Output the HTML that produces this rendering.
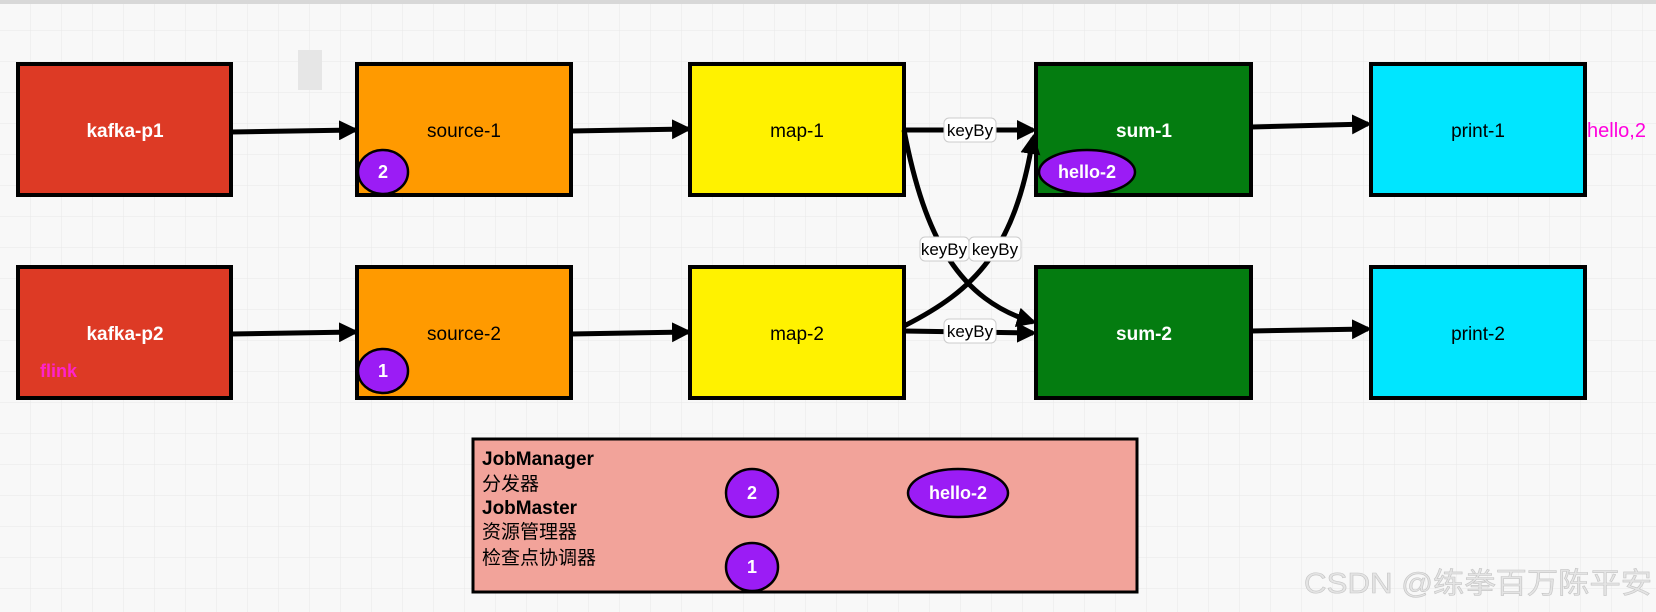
<!DOCTYPE html>
<html><head><meta charset="utf-8"><style>
html,body{margin:0;padding:0;width:1656px;height:612px;overflow:hidden;background:#f8f8f8}
svg{display:block}
text{font-family:"Liberation Sans","Noto Sans CJK SC",sans-serif}
</style></head><body>
<svg width="1656" height="612" viewBox="0 0 1656 612" xmlns="http://www.w3.org/2000/svg">
<defs>
<pattern id="g" width="31" height="31" patternUnits="userSpaceOnUse">
<path d="M31 0V31M0 31H31" stroke="#e8e8e8" stroke-width="1" fill="none"/>
</pattern>
<marker id="a" viewBox="0 0 10 10" refX="8" refY="5" markerWidth="4" markerHeight="4" orient="auto">
<path d="M0 0L10 5L0 10z" fill="#000"/>
</marker>
</defs>
<rect width="1656" height="612" fill="#f8f8f8"/>
<rect width="1656" height="612" fill="url(#g)"/>
<rect x="0" y="0" width="1656" height="4" fill="#d8d8d8"/>
<rect x="298" y="50" width="24" height="40" fill="#e6e6e6"/>

<g stroke="#000" stroke-width="4">
<rect x="18" y="64" width="213" height="131" fill="#dd3a25"/>
<rect x="357" y="64" width="214" height="131" fill="#ff9a00"/>
<rect x="690" y="64" width="214" height="131" fill="#fff200"/>
<rect x="1036" y="64" width="215" height="131" fill="#047c10"/>
<rect x="1371" y="64" width="214" height="131" fill="#00e6ff"/>
<rect x="18" y="267" width="213" height="131" fill="#dd3a25"/>
<rect x="357" y="267" width="214" height="131" fill="#ff9a00"/>
<rect x="690" y="267" width="214" height="131" fill="#fff200"/>
<rect x="1036" y="267" width="215" height="131" fill="#047c10"/>
<rect x="1371" y="267" width="214" height="131" fill="#00e6ff"/>
</g>

<g stroke="#000" stroke-width="5" fill="none" marker-end="url(#a)">
<path d="M231 132L355 130"/>
<path d="M571 131L688 129"/>
<path d="M904 130L1033 130"/>
<path d="M1251 127L1368 124"/>
<path d="M231 334L355 332"/>
<path d="M571 334L688 332"/>
<path d="M904 331L1033 333"/>
<path d="M1251 331L1368 329"/>
<path d="M904 130C925 240 960 300 1033 322"/>
<path d="M904 326C975 290 1015 250 1033 138"/>
</g>

<g font-size="17" fill="#000">
<rect x="944" y="118" width="52" height="24" rx="5" fill="#fff" stroke="#ccc"/>
<text x="970" y="136" text-anchor="middle">keyBy</text>
<rect x="920" y="237" width="49" height="24" rx="5" fill="#fff" stroke="#ccc"/>
<text x="944" y="255" text-anchor="middle">keyBy</text>
<rect x="969" y="237" width="52" height="24" rx="5" fill="#fff" stroke="#ccc"/>
<text x="995" y="255" text-anchor="middle">keyBy</text>
<rect x="944" y="319" width="52" height="24" rx="5" fill="#fff" stroke="#ccc"/>
<text x="970" y="337" text-anchor="middle">keyBy</text>
</g>

<g font-size="19" font-weight="bold" text-anchor="middle">
<text x="125" y="137" fill="#fff">kafka-p1</text>
<text x="464" y="137" fill="#000" font-weight="normal">source-1</text>
<text x="797" y="137" fill="#000" font-weight="normal">map-1</text>
<text x="1144" y="137" fill="#fff">sum-1</text>
<text x="1478" y="137" fill="#000" font-weight="normal">print-1</text>
<text x="125" y="340" fill="#fff">kafka-p2</text>
<text x="464" y="340" fill="#000" font-weight="normal">source-2</text>
<text x="797" y="340" fill="#000" font-weight="normal">map-2</text>
<text x="1144" y="340" fill="#fff">sum-2</text>
<text x="1478" y="340" fill="#000" font-weight="normal">print-2</text>
</g>
<text x="40" y="377" font-size="18" font-weight="bold" fill="#ff22cc">flink</text>
<text x="1587" y="137" font-size="20" fill="#ff00dd">hello,2</text>

<rect x="473" y="439" width="664" height="153" fill="#f2a39a" stroke="#000" stroke-width="3"/>
<g font-size="19" fill="#000">
<text x="482" y="465" font-weight="bold">JobManager</text>
<text x="482" y="490">分发器</text>
<text x="482" y="514" font-weight="bold">JobMaster</text>
<text x="482" y="538">资源管理器</text>
<text x="482" y="564">检查点协调器</text>
</g>

<g stroke="#000" stroke-width="2.5" fill="#9b1cf5">
<ellipse cx="383" cy="172" rx="25" ry="22"/>
<ellipse cx="383" cy="371" rx="25" ry="22"/>
<ellipse cx="1087" cy="172" rx="48" ry="22"/>
<ellipse cx="752" cy="493" rx="26" ry="24"/>
<ellipse cx="752" cy="567" rx="26" ry="24"/>
<ellipse cx="958" cy="493" rx="50" ry="24"/>
</g>
<g font-size="18" font-weight="bold" fill="#fff" text-anchor="middle">
<text x="383" y="178">2</text>
<text x="383" y="377">1</text>
<text x="1087" y="178">hello-2</text>
<text x="752" y="499">2</text>
<text x="752" y="573">1</text>
<text x="958" y="499">hello-2</text>
</g>
<text x="1304" y="593" font-size="29" fill="#e4e4e4" stroke="#c4c4c4" stroke-width="0.6" textLength="348" lengthAdjust="spacingAndGlyphs">CSDN @练拳百万陈平安</text>
</svg>
</body></html>
